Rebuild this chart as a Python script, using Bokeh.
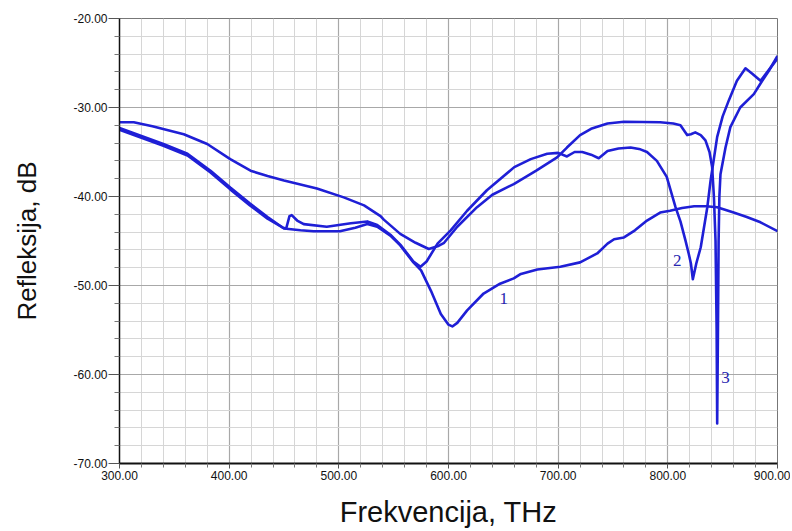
from bokeh.plotting import figure
from bokeh.models import Range1d, FixedTicker, PrintfTickFormatter
from bokeh.core.properties import value
from bokeh.embed import file_html
from bokeh.resources import INLINE

# ---- data ----
x_major = [300, 400, 500, 600, 700, 800, 900]
x_minor = [320, 340, 360, 380, 420, 440, 460, 480, 520, 540, 560, 580, 620, 640, 660, 680,
           720, 740, 760, 780, 820, 840, 860, 880]
y_major = [-70, -60, -50, -40, -30, -20]
y_minor = [-68, -66, -64, -62, -58, -56, -54, -52, -48, -46, -44, -42, -38, -36, -34, -32,
           -28, -26, -24, -22]

x1 = [300, 320, 340, 362, 383, 401, 419, 435, 450, 465, 477, 501, 515, 526, 535, 547, 556, 568,
      575, 584, 593, 600, 603.5, 608, 617, 632, 647, 659.5, 666, 681, 702, 720, 735.6, 745, 751,
      760, 770, 781, 793, 802, 813, 824, 835, 845, 860, 872, 884.5, 900]
y1 = [-32.3, -33.2, -34.1, -35.2, -37.1, -39.0, -40.8, -42.3, -43.6, -43.8, -43.9, -43.9, -43.5,
      -43.1, -43.4, -44.4, -45.5, -47.4, -48.3, -50.6, -53.2, -54.4, -54.6, -54.2, -52.8, -50.9,
      -49.8, -49.2, -48.7, -48.2, -47.9, -47.4, -46.4, -45.3, -44.8, -44.6, -43.8, -42.7, -41.8,
      -41.6, -41.3, -41.1, -41.1, -41.2, -41.8, -42.3, -42.9, -43.9]

x2 = [300, 320, 340, 362, 383, 401, 419, 435, 449, 452, 455, 457, 462, 468, 489, 500, 511, 526,
      535, 547, 556, 568, 574.5, 580, 590, 602, 617, 635, 660, 675, 690, 700, 708, 715, 722, 730,
      737, 745, 755, 766, 775, 781, 790, 799, 807, 811.5, 816, 819, 821, 822.8, 826, 830, 836,
      839, 845, 850, 855.6, 863, 870.8, 877, 884.5, 892, 900]
y2 = [-32.5, -33.4, -34.3, -35.4, -37.3, -39.2, -41.0, -42.5, -43.5, -43.6, -42.2, -42.1, -42.7,
      -43.1, -43.4, -43.2, -43.0, -42.8, -43.2, -44.3, -45.4, -47.3, -47.9, -47.3, -45.3, -43.8,
      -41.6, -39.3, -36.7, -35.8, -35.2, -35.1, -35.5, -35.0, -35.0, -35.3, -35.7, -34.9, -34.6,
      -34.5, -34.7, -35.0, -36.0, -37.8, -41.2, -42.8, -44.9, -46.4, -47.5, -49.3, -47.5, -45.7,
      -41.2, -38.2, -33.3, -31.0, -29.2, -27.0, -25.6, -26.2, -27.0, -25.8, -24.5]

x3 = [300, 313, 330, 358.6, 380, 401, 419.5, 435, 450, 480, 504.5, 523, 538, 541, 556, 570, 582,
      590, 596, 608, 626, 640, 659.5, 680, 699, 708, 720, 730, 745, 760, 793, 805, 811.5, 817.6,
      821, 825, 830, 834.3, 838, 840.4, 842, 843.5, 844.5, 845, 845.7, 846.3, 847, 848, 852.6,
      857, 866, 878.4, 884.5, 892, 900]
y3 = [-31.65, -31.65, -32.1, -33.0, -34.1, -35.8, -37.1, -37.7, -38.2, -39.1, -40.1, -41.0, -42.2,
      -42.6, -44.2, -45.2, -45.9, -45.6, -45.2, -43.4, -41.2, -39.8, -38.6, -37.1, -35.6, -34.5,
      -33.1, -32.4, -31.8, -31.6, -31.65, -31.8, -32.0, -33.1, -33.0, -32.8, -33.1, -33.7, -35.0,
      -36.7, -40.0, -45.0, -55.0, -65.5, -55.0, -45.0, -40.0, -37.5, -34.5, -32.2, -30.0, -28.5,
      -27.3, -25.9, -24.2]

label_text = ["1", "2", "3"]
label_x = [650.4, 808.5, 852.5]
label_y = [-51.5, -47.2, -60.3]

x_title = "Frekvencija, THz"
y_title = "Refleksija, dB"

# ---- figure ----
W, H = 790, 531
FL, FR, FT, FB = 119, 777, 18, 463
p = figure(width=W, height=H, output_backend="svg", toolbar_location=None,
           x_range=Range1d(300, 900), y_range=Range1d(-70, -20),
           min_border_left=FL, min_border_right=W - FR, min_border_top=FT,
           min_border_bottom=H - FB)
p.background_fill_color = "white"
p.border_fill_color = "white"
p.outline_line_color = "#777777"
p.outline_line_width = 1

line_color = "#1f1fd6"
for xs, ys in [(x1, y1), (x2, y2), (x3, y3)]:
    p.line(xs, ys, line_color=line_color, line_width=2.6, line_join="round")

p.text(x=label_x, y=label_y, text=label_text, text_font=value("Liberation Serif"),
       text_font_size="17px", text_color="#2626b0", text_align="center",
       text_baseline="middle")

# axes
p.xaxis.ticker = FixedTicker(ticks=x_major, minor_ticks=x_minor)
p.yaxis.ticker = FixedTicker(ticks=y_major, minor_ticks=y_minor)
p.xaxis.formatter = PrintfTickFormatter(format="%.2f")
p.yaxis.formatter = PrintfTickFormatter(format="%.2f")

for ax in (p.xaxis[0], p.yaxis[0]):
    ax.major_label_text_font = "Liberation Sans"
    ax.major_label_text_font_size = "12px"
    ax.major_label_text_color = "#111111"
    ax.axis_line_color = "#111111"
    ax.major_tick_line_color = "#555555"
    ax.minor_tick_line_color = "#777777"
    ax.axis_label_text_font = "Liberation Sans"
    ax.axis_label_text_font_style = "normal"
    ax.axis_label_text_color = "#111111"

p.xaxis.axis_line_width = 2
p.xaxis.major_tick_out = 5
p.xaxis.major_tick_in = 0
p.xaxis.minor_tick_out = 4
p.xaxis.minor_tick_in = 0
p.xaxis.major_label_standoff = 2
p.xaxis.axis_label = x_title
p.xaxis.axis_label_text_font_size = "29px"
p.xaxis.axis_label_standoff = 13

p.yaxis.axis_line_width = 1.5
p.yaxis.major_tick_out = 11
p.yaxis.major_tick_in = 0
p.yaxis.minor_tick_out = 5
p.yaxis.minor_tick_in = 0
p.yaxis.major_label_standoff = 1
p.yaxis.axis_label = y_title
p.yaxis.axis_label_text_font_size = "26px"
p.yaxis.axis_label_standoff = 28

# grid
p.xgrid.grid_line_color = "#a8a8a8"
p.ygrid.grid_line_color = "#a8a8a8"
p.xgrid.grid_line_width = 1.2
p.ygrid.grid_line_width = 1.2
p.xgrid.minor_grid_line_color = "#d6d6d6"
p.ygrid.minor_grid_line_color = "#d6d6d6"
p.xgrid.minor_grid_line_width = 1
p.ygrid.minor_grid_line_width = 1

open("out.html", "w").write(file_html(p, INLINE))
